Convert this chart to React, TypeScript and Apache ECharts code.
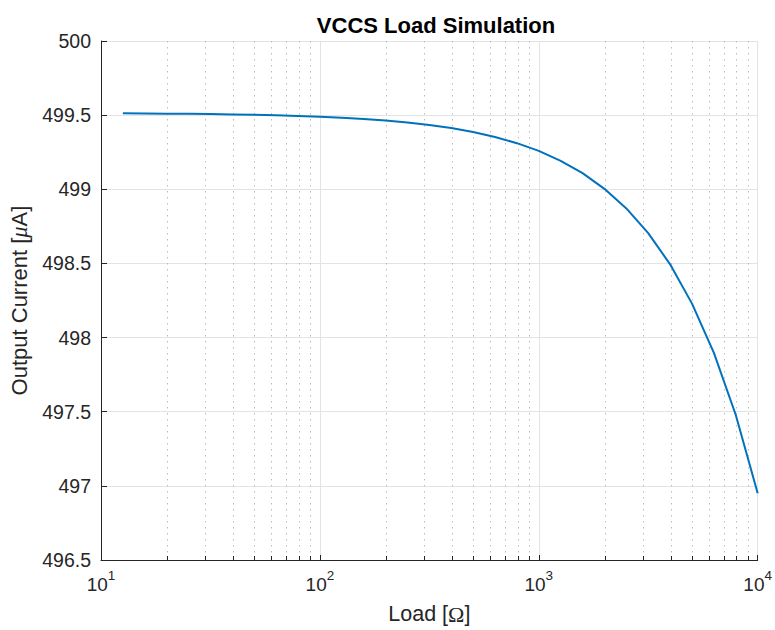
import React, { useEffect, useRef } from "react";
import * as echarts from "echarts";

const loads = [12.59, 15.85, 19.95, 25.12, 31.62, 39.81, 50.12, 63.1, 79.43, 100, 125.9, 158.5, 199.5, 251.2, 316.2, 398.1, 501.2, 631.0, 794.3, 1000, 1259, 1585, 1995, 2512, 3162, 3981, 5012, 6310, 7943, 10000];
const currents = [499.512, 499.511, 499.51, 499.509, 499.507, 499.505, 499.502, 499.499, 499.495, 499.489, 499.483, 499.474, 499.464, 499.451, 499.434, 499.413, 499.386, 499.353, 499.311, 499.259, 499.192, 499.109, 499.003, 498.871, 498.704, 498.494, 498.229, 497.897, 497.478, 496.95];
const minorTicks = [20, 30, 40, 50, 60, 70, 80, 90, 200, 300, 400, 500, 600, 700, 800, 900, 2000, 3000, 4000, 5000, 6000, 7000, 8000, 9000];

const FONT = "'Liberation Sans', Arial, Helvetica, sans-serif";
const SERIF = "'Liberation Serif', 'DejaVu Serif', serif";

export default function App() {
  const ref = useRef<HTMLDivElement>(null);
  useEffect(() => {
    if (!ref.current) return;
    const chart = echarts.init(ref.current, undefined, { renderer: "svg" });
    const yMin = 496.5;
    chart.setOption({
      animation: false,
      backgroundColor: "#ffffff",
      title: {
        text: "VCCS Load Simulation",
        left: 431,
        textAlign: "center",
        top: 9,
        textStyle: { fontFamily: FONT, fontSize: 22, fontWeight: "bold", color: "#000000" },
      },
      grid: { left: 101, right: 14, top: 41, bottom: 69, containLabel: false },
      xAxis: {
        type: "log",
        logBase: 10,
        min: 10,
        max: 10000,
        name: "Load [{o|Ω}]",
        nameLocation: "middle",
        nameGap: 43,
        nameTextStyle: {
          fontFamily: FONT,
          fontSize: 21.5,
          color: "#262626",
          rich: { o: { fontFamily: SERIF, fontSize: 22, color: "#262626" } },
        },
        axisLine: { show: true, onZero: false, lineStyle: { color: "#262626", width: 1 } },
        axisTick: { show: true, inside: true, length: 5, lineStyle: { color: "#262626" } },
        axisLabel: {
          margin: 8,
          color: "#262626",
          formatter: (v: number) => `{b|10}{s|${Math.round(Math.log10(v))}}`,
          rich: {
            b: { fontFamily: FONT, fontSize: 19, color: "#262626", lineHeight: 26, verticalAlign: "bottom" },
            s: { fontFamily: FONT, fontSize: 13.5, color: "#262626", lineHeight: 26, verticalAlign: "top", padding: [0, 0, 10, 0] },
          },
          showMinLabel: true,
          showMaxLabel: true,
        },
        splitLine: { show: true, lineStyle: { color: "#e3e3e3", width: 1 } },
      },
      yAxis: {
        type: "value",
        min: yMin,
        max: 500,
        interval: 0.5,
        name: "Output Current [{i|μ}A]",
        nameLocation: "middle",
        nameGap: 68,
        nameTextStyle: {
          fontFamily: FONT,
          fontSize: 22,
          color: "#262626",
          rich: { i: { fontFamily: SERIF, fontStyle: "italic", fontSize: 22.5, color: "#262626" } },
        },
        axisLine: { show: true, lineStyle: { color: "#262626", width: 1 } },
        axisTick: { show: true, inside: true, length: 6, lineStyle: { color: "#262626" } },
        axisLabel: {
          margin: 10,
          fontFamily: FONT,
          fontSize: 19.5,
          color: "#262626",
          formatter: (v: number) => String(Math.round(v * 10) / 10),
        },
        splitLine: { show: true, lineStyle: { color: "#e3e3e3", width: 1 } },
      },
      series: [
        {
          type: "custom",
          silent: true,
          z: 1,
          encode: { x: 0, y: 1 },
          data: minorTicks.map((v) => [v, yMin]),
          renderItem: (params: any, api: any) => {
            const pt = api.coord([api.value(0), api.value(1)]);
            const cs = params.coordSys;
            const x = Math.round(pt[0]) + 0.5;
            return {
              type: "group",
              children: [
                {
                  type: "line",
                  shape: { x1: x, y1: cs.y, x2: x, y2: cs.y + cs.height },
                  style: { stroke: "#bdbdbd", lineWidth: 1, lineDash: [1.5, 4.5] },
                },
                {
                  type: "line",
                  shape: { x1: x, y1: cs.y + cs.height, x2: x, y2: cs.y + cs.height - 4 },
                  style: { stroke: "#262626", lineWidth: 1 },
                },
              ],
            };
          },
        },
        {
          type: "line",
          z: 3,
          showSymbol: false,
          symbol: "none",
          data: loads.map((l, i) => [l, currents[i]]),
          lineStyle: { color: "#0072BD", width: 2 },
        },
      ],
    });
    return () => chart.dispose();
  }, []);
  return <div ref={ref} style={{ width: 775, height: 630, position: "fixed", left: 0, top: 0 }} />;
}
